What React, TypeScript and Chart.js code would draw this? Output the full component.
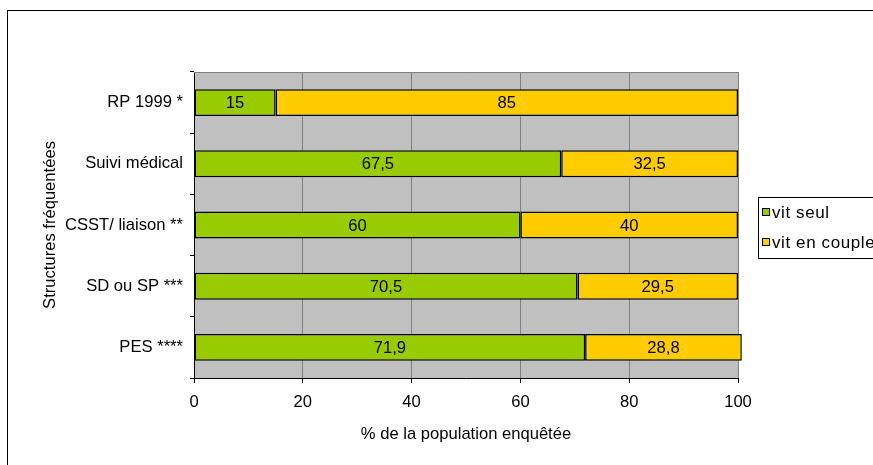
import React, { useEffect, useRef } from "react";
import { Chart, registerables } from "chart.js";

Chart.register(...registerables);

const categories = ["RP 1999 *", "Suivi médical", "CSST/ liaison **", "SD ou SP ***", "PES ****"];
const vitSeul = [15, 67.5, 60, 70.5, 71.9];
const vitEnCouple = [85, 32.5, 40, 29.5, 28.8];
const seriesNames = ["vit seul", "vit en couple"];
const seriesColors = ["#99CC00", "#FFCC00"];
const xTitle = "% de la population enquêtée";
const yTitle = "Structures fréquentées";

const FONT = "'Liberation Sans', Arial, sans-serif";
const FS = 16.6;

const framePlugin = {
  id: "frameAndBg",
  beforeDraw(chart: any) {
    const { ctx, chartArea } = chart;
    ctx.save();
    ctx.fillStyle = "#ffffff";
    ctx.fillRect(0, 0, chart.width, chart.height);
    ctx.fillStyle = "#C0C0C0";
    ctx.fillRect(chartArea.left, chartArea.top, chartArea.right - chartArea.left, chartArea.bottom - chartArea.top);
    ctx.restore();
  },
  beforeDatasetsDraw(chart: any) {
    const { ctx, chartArea } = chart;
    ctx.save();
    ctx.strokeStyle = "#808080";
    ctx.lineWidth = 1;
    ctx.beginPath();
    ctx.moveTo(chartArea.left, chartArea.top + 0.5);
    ctx.lineTo(chartArea.right + 0.5, chartArea.top + 0.5);
    ctx.lineTo(chartArea.right + 0.5, chartArea.bottom);
    ctx.stroke();
    ctx.restore();
  },
  afterDatasetsDraw(chart: any) {
    const { ctx } = chart;
    ctx.save();
    ctx.font = `${FS}px ${FONT}`;
    ctx.fillStyle = "#000";
    ctx.textAlign = "center";
    ctx.textBaseline = "middle";
    chart.data.datasets.forEach((ds: any, di: number) => {
      const meta = chart.getDatasetMeta(di);
      meta.data.forEach((bar: any, i: number) => {
        const v = ds.data[i];
        const cx = (bar.x + bar.base) / 2;
        ctx.fillText(String(v).replace(".", ","), cx, bar.y + 1);
      });
    });
    ctx.restore();
  },
  afterDraw(chart: any) {
    const { ctx } = chart;
    ctx.save();
    // outer frame
    ctx.strokeStyle = "#000";
    ctx.lineWidth = 1;
    ctx.strokeRect(7.5, 10.5, 1000, 1000);
    // legend
    const lx = 758.5;
    const ly = 197.5;
    ctx.strokeRect(lx, ly, 300, 61);
    ctx.font = `17px ${FONT}`;
    (ctx as any).letterSpacing = "0.6px";
    ctx.textAlign = "left";
    ctx.textBaseline = "middle";
    const rows = [212, 242];
    seriesNames.forEach((name, i) => {
      ctx.fillStyle = seriesColors[i];
      ctx.fillRect(762, rows[i] - 3, 7, 7);
      ctx.strokeStyle = "#000";
      ctx.strokeRect(762.5, rows[i] - 3.5, 7, 7);
      ctx.fillStyle = "#000";
      ctx.fillText(name, 772, rows[i] + 1);
    });
    ctx.restore();
  },
};

export default function App() {
  const ref = useRef<HTMLCanvasElement>(null);
  useEffect(() => {
    if (!ref.current) return;
    const chart = new Chart(ref.current, {
      type: "bar",
      data: {
        labels: categories,
        datasets: [
          {
            label: seriesNames[0],
            data: vitSeul,
            backgroundColor: seriesColors[0],
            borderColor: "#000",
            borderWidth: 1.5,
            borderSkipped: false,
            clip: false,
          } as any,
          {
            label: seriesNames[1],
            data: vitEnCouple,
            backgroundColor: seriesColors[1],
            borderColor: "#000",
            borderWidth: 1.5,
            borderSkipped: false,
            clip: false,
          } as any,
        ],
      },
      options: {
        indexAxis: "y",
        responsive: false,
        animation: false,
        devicePixelRatio: 1,
        layout: { padding: { left: 0, top: 72, right: 135, bottom: 0 } },
        datasets: { bar: { categoryPercentage: 1, barPercentage: 0.44 } },
        plugins: { legend: { display: false }, tooltip: { enabled: false } },
        scales: {
          x: {
            stacked: true,
            min: 0,
            max: 100,
            ticks: { stepSize: 20, color: "#000", font: { family: FONT, size: FS }, padding: 9 },
            grid: { color: "#808080", tickColor: "#000", tickLength: 5, lineWidth: 1 },
            border: { color: "#000", width: 1 },
            title: { display: true, text: xTitle, color: "#000", font: { family: FONT, size: FS }, padding: { top: 0, bottom: 21 } },
            afterFit(scale: any) {
              scale.height = 87;
            },
          },
          y: {
            stacked: true,
            offset: true,
            ticks: { color: "#000", font: { family: FONT, size: FS }, padding: 7 },
            grid: { offset: true, drawOnChartArea: false, tickColor: "#000", tickLength: 4 },
            border: { color: "#000", width: 1 },
            title: { display: true, text: yTitle, color: "#000", font: { family: FONT, size: FS }, padding: { top: 40, bottom: 0 } },
            afterFit(scale: any) {
              scale.width = 194;
            },
          },
        },
      },
      plugins: [framePlugin],
    } as any);
    return () => chart.destroy();
  }, []);
  return (
    <div style={{ position: "fixed", left: 0, top: 0, width: 873, height: 465, background: "#fff" }}>
      <canvas ref={ref} width={873} height={465} style={{ display: "block" }} />
    </div>
  );
}
